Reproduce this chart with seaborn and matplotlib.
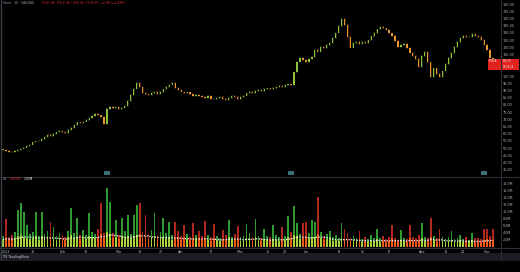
import numpy as np
import pandas as pd
import matplotlib
matplotlib.use("Agg")
import matplotlib.pyplot as plt
import seaborn as sns

# ---------------- data ----------------
close = [48.6, 48.0, 47.4, 47.3, 47.9, 48.8, 49.6, 50.3, 51.5, 52.4,
         53.9, 54.6, 55.2, 56.5, 57.9, 59.3, 58.4, 59.6, 60.8, 61.9,
         61.2, 60.4, 62.3, 64.1, 66.0, 67.8, 67.1, 68.4, 69.5, 70.8,
         72.2, 73.4, 72.6, 71.3, 66.9, 77.2, 78.6, 77.5, 78.3, 77.0,
         78.1, 79.4, 82.6, 86.9, 91.3, 95.0, 92.1, 88.4, 87.2, 86.5,
         88.3, 89.0, 87.6, 88.9, 90.7, 92.2, 94.1, 95.3, 91.8, 90.4,
         89.2, 88.1, 88.6, 87.4, 86.3, 87.0, 86.1, 85.2, 84.7, 85.9,
         84.3, 83.8, 84.9, 85.6, 84.2, 83.5, 84.8, 86.0, 85.4, 84.1,
         85.3, 86.4, 87.9, 89.1, 88.3, 89.6, 90.2, 89.5, 90.8, 91.4,
         90.7, 91.8, 92.6, 93.1, 92.4, 93.6, 94.2, 93.8, 102.5, 109.6,
         112.3, 111.0, 109.8, 111.6, 113.4, 117.9, 117.0, 120.4, 119.7, 121.3,
         123.1, 126.4, 130.2, 134.6, 139.8, 135.4, 127.3, 119.8, 122.9, 123.6,
         122.4, 123.5, 122.8, 124.7, 127.5, 130.1, 132.4, 134.2, 133.1, 131.8,
         129.6, 127.9, 124.3, 120.2, 121.8, 122.5, 119.4, 116.3, 114.1, 112.0,
         106.2, 113.7, 117.0, 109.4, 99.2, 105.3, 101.4, 99.1, 103.2, 108.6,
         112.4, 116.1, 120.3, 123.5, 126.2, 128.0, 126.9, 127.3, 129.1, 127.6,
         127.2, 125.0, 121.3, 118.2, 112.5, 109.7]

volume = [3.2, 7.9, 2.8, 3.5, 4.1, 10.4, 12.4, 9.9, 6.2, 3.6,
          4.2, 9.9, 3.1, 9.9, 3.8, 4.4, 7.0, 5.5, 3.2, 4.0,
          3.4, 2.9, 4.6, 11.0, 3.9, 8.2, 3.3, 4.8, 3.5, 9.6,
          4.3, 3.7, 5.1, 12.4, 4.0, 16.6, 12.7, 3.9, 7.6, 3.4,
          8.2, 4.5, 9.0, 3.8, 9.0, 11.8, 12.4, 4.1, 9.0, 3.6,
          4.7, 9.6, 3.5, 4.2, 8.2, 3.9, 7.0, 3.3, 7.0, 4.4,
          3.1, 6.2, 3.8, 2.9, 6.8, 3.5, 4.6, 3.0, 7.2, 3.3,
          2.8, 6.4, 3.1, 2.6, 4.9, 3.4, 7.5, 2.9, 3.6, 5.8,
          2.7, 3.2, 6.6, 4.0, 2.8, 7.8, 3.1, 2.6, 5.2, 3.0,
          2.9, 6.1, 3.3, 2.7, 5.7, 3.1, 8.6, 4.2, 11.5, 6.8,
          3.6, 6.8, 7.0, 3.9, 7.6, 7.0, 14.1, 4.3, 3.2, 3.8,
          4.5, 2.8, 3.4, 2.6, 6.8, 5.0, 3.9, 2.5, 3.1, 2.4,
          4.5, 2.3, 2.9, 2.2, 3.5, 2.6, 5.0, 2.4, 3.0, 2.2,
          2.7, 6.2, 2.5, 2.1, 4.8, 2.6, 2.3, 6.2, 2.8, 2.4,
          3.3, 6.8, 2.9, 2.5, 8.2, 3.1, 2.4, 5.0, 2.7, 2.2,
          2.9, 4.5, 2.3, 2.6, 3.3, 2.2, 2.8, 2.1, 4.0, 2.4,
          2.5, 2.2, 5.0, 5.0, 3.2, 5.0]

volume_inner = [2.1, 2.6, 1.9, 2.3, 2.5, 3.0, 3.4, 2.9, 2.4, 2.2,
                2.6, 3.1, 2.0, 3.0, 2.4, 2.7, 2.6, 2.3, 2.1, 2.5,
                2.2, 1.9, 2.8, 3.5, 2.5, 2.9, 2.2, 2.8, 2.3, 3.1,
                2.7, 2.4, 2.9, 3.6, 2.6, 4.2, 3.8, 2.5, 2.9, 2.2,
                3.0, 2.7, 3.2, 2.5, 3.1, 3.5, 3.7, 2.6, 3.0, 2.3,
                2.8, 3.2, 2.3, 2.6, 2.9, 2.4, 2.7, 2.1, 2.6, 2.7,
                2.0, 2.4, 2.3, 1.9, 2.5, 2.2, 2.6, 1.9, 2.6, 2.0,
                1.8, 2.4, 2.0, 1.7, 2.3, 2.1, 2.7, 1.9, 2.2, 2.3,
                1.8, 2.0, 2.5, 2.4, 1.8, 2.8, 2.0, 1.7, 2.2, 1.9,
                1.9, 2.3, 2.1, 1.8, 2.2, 2.0, 2.9, 2.5, 3.4, 3.0,
                2.3, 2.6, 2.7, 2.4, 2.8, 2.7, 3.6, 2.5, 2.0, 2.3,
                2.4, 1.8, 2.0, 1.7, 2.5, 2.3, 2.1, 1.6, 1.9, 1.6,
                2.2, 1.5, 1.8, 1.5, 2.0, 1.6, 2.3, 1.5, 1.8, 1.4,
                1.7, 2.4, 1.6, 1.4, 2.1, 1.6, 1.5, 2.4, 1.7, 1.5,
                1.9, 2.5, 1.8, 1.6, 2.8, 1.9, 1.5, 2.2, 1.7, 1.4,
                1.8, 2.0, 1.5, 1.6, 1.9, 1.4, 1.7, 1.4, 1.9, 1.5,
                1.6, 1.4, 2.1, 2.2, 1.8, 2.1]

price_ticks = [150, 145, 140, 135, 130, 125, 120, 115, 110, 105, 100, 95, 90,
               85, 80, 75, 70, 65, 60, 55, 50, 45, 40, 35]
volume_ticks = [2, 4, 6, 8, 10, 12, 14, 16, 18]
volume_tick_labels = ["2.0M", "4.0M", "6.0M", "8.0M", "10.0M", "12.0M",
                      "14.0M", "16.0M", "18.0M"]
date_tick_bars = [1, 10, 20, 28, 39, 46, 53, 60, 70, 80, 89, 95, 102,
                  113, 121, 130, 141, 149, 155, 163]
date_tick_labels = ["2023", "16", "Feb", "13", "Mar", "13", "20", "Apr", "17",
                    "May", "15", "22", "Jun", "19", "Jul", "17", "Aug", "14",
                    "21", "Sep"]
earnings_bars = [35, 97, 162]

# ---------------- frame ----------------
n = len(close)
idx = np.arange(n)
openp = [close[0]] + close[:-1]
direction = ["up" if c >= o else "down" for o, c in zip(openp, close)]
df = pd.DataFrame({"bar": idx, "open": openp, "close": close, "dir": direction,
                   "vol": volume, "vol_in": volume_inner})
df["vol_ma"] = df["vol_in"].rolling(5, min_periods=1).mean()

sns.set_theme(style="dark")
plt.rcParams["font.family"] = ["DejaVu Sans"]

W, H = 520, 272
fig = plt.figure(figsize=(W / 100, H / 100), dpi=100, facecolor="black")

AX_R = 500
axp = fig.add_axes([0, 1 - 176 / H, AX_R / W, 176 / H])
axv = fig.add_axes([0, 1 - 247 / H, AX_R / W, 70 / H])

tick_col = "#b2b5be"
line_col = "#2a2e39"
for ax in (axp, axv):
    ax.set_facecolor("black")
    for s in ax.spines.values():
        s.set_visible(False)
    ax.grid(False)
    ax.yaxis.tick_right()
    ax.tick_params(axis="y", length=0, labelsize=2.4, labelcolor=tick_col, pad=2)

x_lo, x_hi = -3 / 2.97, (AX_R - 3) / 2.97
PRICE_TOP, PX_PER_UNIT = 152.8, 1.44

# ---------------- candles ----------------
up_c, dn_c = "#8fc23c", "#e9952e"
cols = [up_c if d == "up" else dn_c for d in df["dir"]]
heights = np.array(close) - np.array(openp)
heights = np.where(np.abs(heights) < 0.4, np.sign(heights + 1e-9) * 0.4, heights)
axp.bar(idx, heights, bottom=openp, width=0.42, color=cols, linewidth=0)
axp.vlines(idx, np.minimum(openp, close) - 0.6, np.maximum(openp, close) + 0.6,
           colors=cols, linewidth=0.3)
axp.set_xlim(x_lo, x_hi)
axp.set_ylim(PRICE_TOP - 176 / PX_PER_UNIT, PRICE_TOP)

# last price tag (covers the scale labels behind it, as on the reference)
last = close[-1]
tag_top, tag_bot = 59, 70
tag_lo = PRICE_TOP - (tag_bot + 1.5) / PX_PER_UNIT
tag_hi = PRICE_TOP - (tag_top - 1.5) / PX_PER_UNIT
axp.set_yticks(price_ticks)
axp.set_yticklabels(["" if tag_lo <= t <= tag_hi else f"{t:.2f}"
                     for t in price_ticks])
axp.set_xticks([])

# earnings markers
for b in earnings_bars:
    axp.add_patch(plt.Rectangle((b - 0.9, 31.0), 1.8, 2.8, color="#3d6f73",
                                lw=0, clip_on=False))

fig.patches.append(plt.Rectangle((488 / W, 1 - tag_bot / H), 31 / W,
                                 (tag_bot - tag_top) / H,
                                 transform=fig.transFigure, color="#e0231f",
                                 lw=0))
fig.text(489 / W, 1 - 61.5 / H, "STOCK", color="white", fontsize=1.8,
         va="center", ha="left")
fig.text(503 / W, 1 - 61.5 / H, f"{last:.2f}", color="white", fontsize=1.8,
         va="center", ha="left")
fig.text(503 / W, 1 - 67.5 / H, "07:32:15", color="white", fontsize=1.8,
         va="center", ha="left")

# ---------------- volume ----------------
sns.barplot(data=df, x="bar", y="vol", hue="dir",
            palette={"up": "#2f9a32", "down": "#b3261e"}, dodge=False,
            width=0.6, saturation=1, errorbar=None, legend=False,
            native_scale=True, ax=axv, linewidth=0)
sns.barplot(data=df, x="bar", y="vol_in", hue="dir",
            palette={"up": "#a4d13c", "down": "#f25a1c"}, dodge=False,
            width=0.6, saturation=1, errorbar=None, legend=False,
            native_scale=True, ax=axv, linewidth=0)
sns.lineplot(data=df, x="bar", y="vol_ma", color="white", lw=0.9,
             linestyle=(0, (1, 1.2)), ax=axv, legend=False)
axv.set_xlim(x_lo, x_hi)
axv.set_ylim(0, 70 / 3.55)
axv.set_yticks(volume_ticks)
axv.set_yticklabels(volume_tick_labels)
axv.set_xlabel("")
axv.set_ylabel("")
axv.set_xticks(date_tick_bars)
axv.set_xticklabels(date_tick_labels)
axv.tick_params(axis="x", length=0, labelsize=2.4, labelcolor=tick_col, pad=2)

# ---------------- frame lines ----------------
def hline(y, x0=0, x1=W, c=line_col, lw=0.8):
    fig.add_artist(plt.Line2D([x0 / W, x1 / W], [1 - y / H, 1 - y / H],
                              transform=fig.transFigure, color=c, lw=lw))

def vline(x, y0, y1, c=line_col, lw=0.8):
    fig.add_artist(plt.Line2D([x / W, x / W], [1 - y0 / H, 1 - y1 / H],
                              transform=fig.transFigure, color=c, lw=lw))

hline(176.5)
hline(247.5)
vline(AX_R + 0.5, 0, 259)
vline(0.5, 0, 259, c="#3a3d47", lw=1.0)
fig.patches.append(plt.Rectangle((0, 1 - 261 / H), 1, 8 / H,
                                 transform=fig.transFigure, color="#1b1d23",
                                 lw=0))
fig.text(3 / W, 1 - 257 / H, "TV TradingView", color="#9598a1", fontsize=2.2,
         va="center", ha="left", fontweight="bold")

# legends
fig.text(3 / W, 1 - 3 / H, "Stock · 1D · NASDAQ", color="#9598a1",
         fontsize=2.2, va="center", ha="left")
fig.text(42 / W, 1 - 3 / H,
         f"O111.45  H112.08  L108.92  C{last:.2f}  −2.80 (−2.49%)",
         color="#d8322b", fontsize=2.2, va="center", ha="left")
fig.text(3 / W, 1 - 179.5 / H, "Vol", color="#9598a1", fontsize=2.2,
         va="center", ha="left")
fig.text(10 / W, 1 - 179.5 / H, f"{volume[-1]:.3f}M", color="#d8322b",
         fontsize=2.2, va="center", ha="left")
fig.text(24 / W, 1 - 179.5 / H, f"{df['vol_ma'].iloc[-1]:.2f}M", color="white",
         fontsize=2.2, va="center", ha="left")

fig.savefig("out.png", dpi=100, facecolor="black")
